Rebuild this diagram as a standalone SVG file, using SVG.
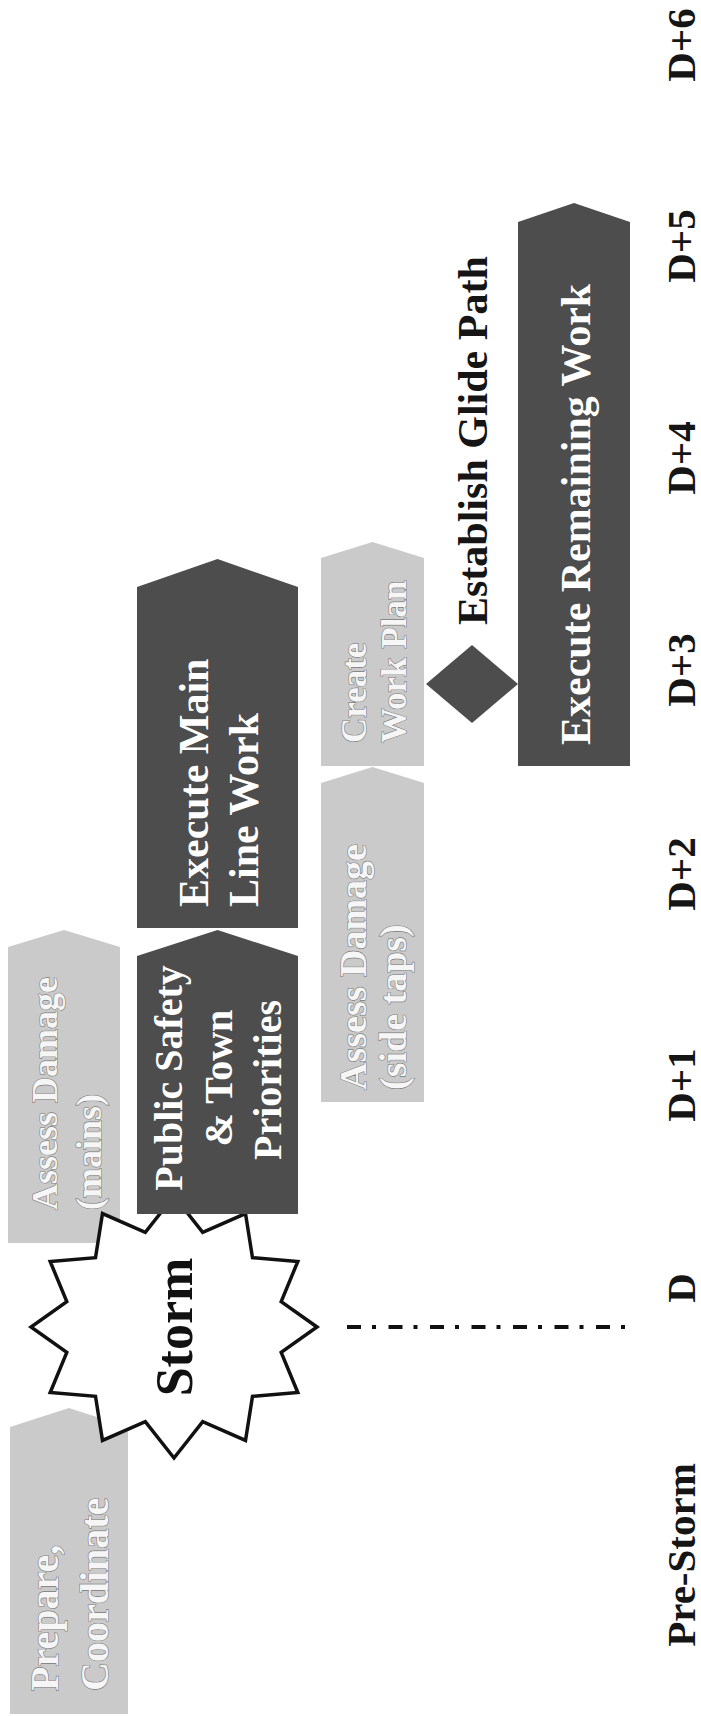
<svg xmlns="http://www.w3.org/2000/svg" width="701" height="1716" viewBox="0 0 701 1716">
<style>
.t{font-family:"Liberation Serif","Times New Roman",serif;font-weight:bold}
.dk{fill:#4d4d4d}
.lt{fill:#cacaca}
.wt{fill:#ffffff}
.lw{fill:#f6f6f6;stroke:#7a7a7a;stroke-width:1.2;paint-order:stroke}
.lab{fill:#151515;font-size:41px;text-anchor:middle}
.star{fill:#ffffff;stroke:#111111;stroke-width:3.5;stroke-linejoin:miter}
</style>
<rect width="701" height="1716" fill="#ffffff"/>

<g id="assess-mains">
<polygon class="lt" points="8,947 64,930 120,947 120,1243 8,1243"/>
<text class="t lw" font-size="36" transform="translate(57,1210) rotate(-90)">Assess Damage</text>
<text class="t lw" font-size="36" transform="translate(101,1210) rotate(-90)">(mains)</text>
</g>

<g id="prepare">
<polygon class="lt" points="10,1427 69,1408 128,1427 128,1714 10,1714"/>
<text class="t lw" font-size="40" transform="translate(58,1691) rotate(-90)">Prepare,</text>
<text class="t lw" font-size="40" transform="translate(108,1691) rotate(-90)">Coordinate</text>
</g>

<g id="storm">
<polygon class="star" points="317,1327 281.2,1301.6 297.8,1261.5 252.5,1257.7 245.5,1213.6 202.7,1232.3 174,1196 145.3,1232.3 102.5,1213.6 95.5,1257.7 50.2,1261.5 66.8,1301.6 31,1327 66.8,1352.4 50.2,1392.5 95.5,1396.3 102.5,1440.4 145.3,1421.7 174,1458 202.7,1421.7 245.5,1440.4 252.5,1396.3 297.8,1392.5 281.2,1352.4"/>
<text class="t" font-size="52" fill="#111111" text-anchor="middle" transform="translate(192,1327) rotate(-90)">Storm</text>
</g>

<g id="public-safety">
<polygon class="dk" points="137,956 217.5,930 298,956 298,1214 137,1214"/>
<text class="t wt" font-size="40" text-anchor="middle" transform="translate(182,1078) rotate(-90)">Public Safety</text>
<text class="t wt" font-size="40" text-anchor="middle" transform="translate(232,1078) rotate(-90)">&amp; Town</text>
<text class="t wt" font-size="40" text-anchor="middle" transform="translate(281,1080) rotate(-90)">Priorities</text>
</g>

<g id="execute-main">
<polygon class="dk" points="137,587 217.5,559 298,587 298,928 137,928"/>
<text class="t wt" font-size="42" transform="translate(208,907) rotate(-90)">Execute Main</text>
<text class="t wt" font-size="42" transform="translate(258,907) rotate(-90)">Line Work</text>
</g>

<g id="assess-side-taps">
<polygon class="lt" points="321,783 372.5,767 424,783 424,1102 321,1102"/>
<text class="t lw" font-size="38" transform="translate(366,1090) rotate(-90)">Assess Damage</text>
<text class="t lw" font-size="38" transform="translate(406,1090) rotate(-90)">(side taps)</text>
</g>

<g id="create-work-plan">
<polygon class="lt" points="321,558 372.5,542 424,558 424,766 321,766"/>
<text class="t lw" font-size="35" transform="translate(366,743) rotate(-90)">Create</text>
<text class="t lw" font-size="35" transform="translate(406,743) rotate(-90)">Work Plan</text>
</g>

<g id="glide-path">
<polygon class="dk" points="426,684 472,645 518,684 472,723"/>
<text class="t" font-size="42" fill="#151515" transform="translate(487,625) rotate(-90)">Establish Glide Path</text>
</g>

<g id="execute-remaining">
<polygon class="dk" points="518,222 574,203 630,222 630,766 518,766"/>
<text class="t wt" font-size="42" transform="translate(590,745) rotate(-90)">Execute Remaining Work</text>
</g>

<g id="connectors">
<line x1="347" y1="1327" x2="637" y2="1327" stroke="#111111" stroke-width="4" stroke-dasharray="14 11 4 12.5"/>
</g>

<g id="timeline-labels">
<text class="t lab" transform="translate(695,45) rotate(-90)">D+6</text>
<text class="t lab" transform="translate(695,246) rotate(-90)">D+5</text>
<text class="t lab" transform="translate(695,458) rotate(-90)">D+4</text>
<text class="t lab" transform="translate(695,670) rotate(-90)">D+3</text>
<text class="t lab" transform="translate(695,874) rotate(-90)">D+2</text>
<text class="t lab" transform="translate(695,1085) rotate(-90)">D+1</text>
<text class="t lab" transform="translate(695,1288) rotate(-90)">D</text>
<text class="t lab" transform="translate(695,1555) rotate(-90)">Pre-Storm</text>
</g>
</svg>
